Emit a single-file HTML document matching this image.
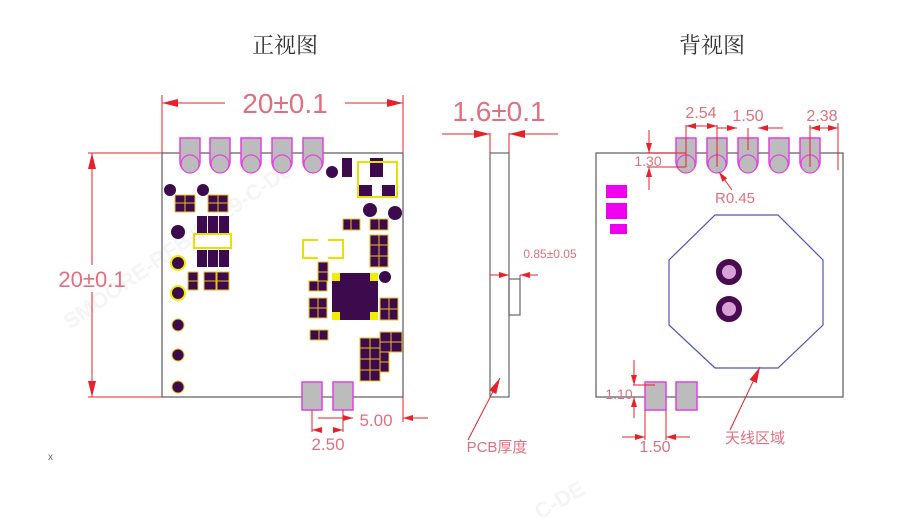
<!DOCTYPE html>
<html><head><meta charset="utf-8"><style>
html,body{margin:0;padding:0;background:#fff;}
svg{display:block;}
.t{font-family:"Liberation Sans","Noto Sans CJK SC",sans-serif;fill:#e07080;}
.h{font-family:"Noto Serif CJK SC","Noto Sans CJK SC",serif;fill:#333;}
</style></head><body>
<svg width="913" height="519" viewBox="0 0 913 519" xmlns="http://www.w3.org/2000/svg">
<defs>
<marker id="a" viewBox="0 0 10 6" refX="10" refY="3" markerWidth="10" markerHeight="6" orient="auto" markerUnits="userSpaceOnUse"><path d="M0,0L10,3L0,6z" fill="#e8202a"/></marker>
<marker id="b" viewBox="0 0 16 8" refX="16" refY="4" markerWidth="16" markerHeight="8" orient="auto" markerUnits="userSpaceOnUse"><path d="M0,0L16,4L0,8z" fill="#e8202a"/></marker>
<g id="pin"><path d="M0,0H20V24A10,10 0 0 1 0,24Z" fill="#bcbcbc" stroke="#e040e0" stroke-width="1.5"/><circle cx="10" cy="26" r="9" fill="#bcbcbc" stroke="#e040e0" stroke-width="1.2"/></g>
</defs>
<!-- watermarks -->
<g font-family="Liberation Sans,sans-serif" font-size="22" font-weight="bold" fill="#f5f5f5">
<text transform="translate(70,330) rotate(-35)">SMOORE-RFB-25-29-C-DE</text>
<text transform="translate(540,520) rotate(-30)">C-DE</text>
</g>
<!-- titles -->
<text class="h" x="285" y="53" font-size="22" text-anchor="middle">正视图</text>
<text class="h" x="712" y="53" font-size="22" text-anchor="middle">背视图</text>

<!-- FRONT VIEW -->
<g stroke="#e8202a" stroke-width="1" fill="none">
<line x1="162" y1="95" x2="162" y2="153"/><line x1="403" y1="95" x2="403" y2="153"/>
<line x1="225" y1="103" x2="162" y2="103" marker-end="url(#b)"/>
<line x1="345" y1="103" x2="403" y2="103" marker-end="url(#b)"/>
<line x1="88" y1="153" x2="162" y2="153"/><line x1="88" y1="397" x2="162" y2="397"/>
<line x1="92" y1="265" x2="92" y2="153" marker-end="url(#b)"/>
<line x1="92" y1="292" x2="92" y2="397" marker-end="url(#b)"/>
</g>
<text class="t" x="285" y="113" font-size="28" text-anchor="middle">20±0.1</text>
<text class="t" x="92" y="287" font-size="22" text-anchor="middle">20±0.1</text>
<rect x="162" y="153" width="241" height="244" fill="none" stroke="#666" stroke-width="1.3"/>
<use href="#pin" x="180" y="138"/><use href="#pin" x="210" y="138"/><use href="#pin" x="241" y="138"/><use href="#pin" x="272" y="138"/><use href="#pin" x="303" y="138"/>
<g fill="#3e0a4e" stroke="#e8c020" stroke-width="1">
<circle cx="170" cy="190" r="6" stroke="none"/><circle cx="203" cy="190" r="6" stroke="none"/><circle cx="332" cy="172" r="6" stroke="none"/>
<rect x="175" y="195" width="10" height="8"/><rect x="185" y="195" width="10" height="8"/><rect x="175" y="203" width="10" height="9"/><rect x="185" y="203" width="10" height="9"/>
<rect x="208" y="195" width="10" height="8"/><rect x="218" y="195" width="10" height="8"/><rect x="208" y="203" width="10" height="9"/><rect x="218" y="203" width="10" height="9"/>
<rect x="197" y="216" width="10" height="17" stroke="none"/><rect x="208" y="216" width="10" height="17" stroke="none"/><rect x="219" y="216" width="10" height="17" stroke="none"/>
<rect x="197" y="250" width="10" height="17" stroke="none"/><rect x="208" y="250" width="10" height="17" stroke="none"/><rect x="219" y="250" width="10" height="17" stroke="none"/>
<rect x="188" y="272" width="10" height="9"/><rect x="188" y="281" width="10" height="9"/><rect x="204" y="272" width="12" height="9"/><rect x="204" y="281" width="12" height="9"/><rect x="217" y="272" width="12" height="9"/><rect x="217" y="281" width="12" height="9"/>
<circle cx="178" cy="232" r="7" stroke="none"/><circle cx="178" cy="263" r="7" stroke="#ee0" stroke-width="2"/><circle cx="178" cy="293" r="7" stroke="#ee0" stroke-width="2"/>
<circle cx="178" cy="325" r="6"/><circle cx="178" cy="355" r="6"/><circle cx="178" cy="387" r="6"/>
<rect x="342" y="158" width="10" height="19" stroke="none"/><rect x="370" y="158" width="13" height="19" stroke="none"/>
<rect x="358" y="185" width="14" height="13" stroke="none"/><rect x="382" y="185" width="13" height="13" stroke="none"/>
<circle cx="370" cy="210" r="7" stroke="none"/><circle cx="395" cy="213" r="7" stroke="none"/>
<rect x="343" y="219" width="8" height="11"/><rect x="351" y="219" width="9" height="11"/><rect x="370" y="219" width="9" height="11"/><rect x="379" y="219" width="9" height="11"/>
<rect x="370" y="235" width="9" height="10"/><rect x="379" y="235" width="9" height="10"/><rect x="370" y="245" width="9" height="11"/><rect x="379" y="245" width="9" height="11"/><rect x="370" y="256" width="9" height="11"/><rect x="379" y="256" width="9" height="11"/>
<circle cx="385" cy="277" r="6" stroke="none"/>
<rect x="318" y="262" width="10" height="10"/><rect x="318" y="272" width="10" height="9"/>
<rect x="309" y="281" width="9" height="10"/><rect x="318" y="281" width="9" height="10"/>
<rect x="309" y="298" width="9" height="10"/><rect x="318" y="298" width="9" height="10"/><rect x="309" y="308" width="9" height="10"/><rect x="318" y="308" width="9" height="10"/>
<rect x="310" y="330" width="9" height="10"/><rect x="319" y="330" width="9" height="10"/>
<rect x="380" y="298" width="9" height="11"/><rect x="389" y="298" width="9" height="11"/><rect x="380" y="309" width="9" height="11"/><rect x="389" y="309" width="9" height="11"/>
<rect x="360" y="338" width="10" height="10"/><rect x="370" y="338" width="10" height="10"/><rect x="360" y="348" width="10" height="11"/><rect x="370" y="348" width="10" height="11"/><rect x="360" y="359" width="10" height="11"/><rect x="370" y="359" width="10" height="11"/><rect x="360" y="370" width="10" height="11"/><rect x="370" y="370" width="10" height="11"/>
<rect x="380" y="332" width="11" height="10"/><rect x="391" y="332" width="11" height="10"/><rect x="380" y="342" width="11" height="10"/><rect x="391" y="342" width="11" height="10"/><rect x="380" y="352" width="9" height="10"/><rect x="380" y="362" width="9" height="10"/>
</g>
<g fill="#ee0"><rect x="332" y="273" width="46" height="47"/></g>
<path d="M340,273H370V281H378V312H370V320H340V312H332V281H340Z" fill="#3e0a4e"/>
<rect x="194" y="234" width="37" height="14" fill="none" stroke="#e8e000" stroke-width="2"/>
<rect x="358" y="162" width="39" height="35" fill="none" stroke="#e8e000" stroke-width="2"/>
<path d="M318,240H303V258H318M328,240H343V258H328" fill="none" stroke="#e8e000" stroke-width="2"/>
<rect x="302" y="382" width="20" height="28" fill="#bcbcbc" stroke="#e040e0" stroke-width="1.5"/>
<rect x="333" y="382" width="20" height="28" fill="#bcbcbc" stroke="#e040e0" stroke-width="1.5"/>
<g stroke="#e8202a" stroke-width="1" fill="none">
<line x1="312" y1="410" x2="312" y2="432"/><line x1="343" y1="410" x2="343" y2="432"/>
<line x1="322" y1="430" x2="312" y2="430" marker-end="url(#a)"/><line x1="333" y1="430" x2="343" y2="430" marker-end="url(#a)"/>
<line x1="318" y1="418" x2="353" y2="418" marker-end="url(#a)"/>
<line x1="403" y1="397" x2="403" y2="422"/><line x1="428" y1="418" x2="403" y2="418" marker-end="url(#a)"/>
</g>
<text class="t" x="328" y="450" font-size="17" text-anchor="middle">2.50</text>
<text class="t" x="376" y="426" font-size="17" text-anchor="middle">5.00</text>

<!-- SIDE VIEW -->
<text class="t" x="499" y="121" font-size="28" text-anchor="middle">1.6±0.1</text>
<g stroke="#e8202a" stroke-width="1" fill="none">
<line x1="490" y1="133" x2="490" y2="153"/><line x1="509" y1="133" x2="509" y2="153"/>
<line x1="442" y1="134" x2="490" y2="134" marker-end="url(#b)"/>
<line x1="558" y1="134" x2="509" y2="134" marker-end="url(#b)"/>
<line x1="490" y1="275" x2="509" y2="275" marker-end="url(#a)"/>
<line x1="538" y1="275" x2="520" y2="275" marker-end="url(#a)"/>
<line x1="520" y1="275" x2="520" y2="279"/>
<line x1="468" y1="440" x2="500" y2="378" marker-end="url(#b)"/>
</g>
<rect x="490" y="153" width="19" height="244" fill="none" stroke="#666" stroke-width="1.2"/>
<rect x="509" y="279" width="11" height="36" fill="none" stroke="#666" stroke-width="1.2"/>
<text class="t" x="550" y="258" font-size="12" text-anchor="middle">0.85±0.05</text>
<text class="t" x="497" y="452" font-size="15" text-anchor="middle">PCB厚度</text>

<!-- BACK VIEW -->
<rect x="596" y="153" width="247" height="244" fill="none" stroke="#666" stroke-width="1.3"/>
<use href="#pin" x="676" y="138"/><use href="#pin" x="707" y="138"/><use href="#pin" x="738" y="138"/><use href="#pin" x="769" y="138"/><use href="#pin" x="800" y="138"/>
<g fill="#f000f0"><rect x="606" y="185" width="21" height="13"/><rect x="606" y="203" width="21" height="16"/><rect x="610" y="224" width="17" height="10"/></g>
<polygon points="715,215 778,215 823,260 823,325 778,368 715,368 669,325 669,260" fill="none" stroke="#5050c0" stroke-width="1.2"/>
<circle cx="729" cy="272" r="10" fill="#d8a0d8" stroke="#4a0a50" stroke-width="6"/>
<circle cx="729" cy="309" r="10" fill="#d8a0d8" stroke="#4a0a50" stroke-width="6"/>
<rect x="645" y="382" width="21" height="28" fill="#bcbcbc" stroke="#e040e0" stroke-width="1.5"/>
<rect x="676" y="382" width="21" height="28" fill="#bcbcbc" stroke="#e040e0" stroke-width="1.5"/>
<g stroke="#e8202a" stroke-width="1" fill="none">
<line x1="686" y1="125" x2="686" y2="167"/><line x1="717" y1="125" x2="717" y2="167"/><line x1="748" y1="128" x2="748" y2="150"/>
<line x1="686" y1="126" x2="717" y2="126" marker-end="url(#a)"/><line x1="717" y1="126" x2="686" y2="126" marker-end="url(#a)"/>
<line x1="717" y1="128" x2="737" y2="128" marker-end="url(#a)"/><line x1="783" y1="128" x2="758" y2="128" marker-end="url(#a)"/>
<line x1="810" y1="125" x2="810" y2="167"/><line x1="838" y1="123" x2="838" y2="170"/>
<line x1="830" y1="128" x2="810" y2="128" marker-end="url(#a)"/><line x1="822" y1="128" x2="838" y2="128" marker-end="url(#a)"/>
<line x1="647" y1="153" x2="686" y2="153"/><line x1="647" y1="167" x2="686" y2="167"/>
<line x1="649" y1="130" x2="649" y2="153" marker-end="url(#a)"/><line x1="649" y1="190" x2="649" y2="167" marker-end="url(#a)"/>
<line x1="732" y1="190" x2="719" y2="172" marker-end="url(#a)"/>
<line x1="633" y1="385" x2="655" y2="385"/>
<line x1="634" y1="360" x2="634" y2="385" marker-end="url(#a)"/><line x1="634" y1="418" x2="634" y2="397" marker-end="url(#a)"/>
<line x1="645" y1="410" x2="645" y2="440"/><line x1="666" y1="410" x2="666" y2="440"/>
<line x1="622" y1="437" x2="645" y2="437" marker-end="url(#a)"/><line x1="690" y1="437" x2="666" y2="437" marker-end="url(#a)"/>
<line x1="730" y1="430" x2="760" y2="367" marker-end="url(#b)"/>
</g>
<text class="t" x="701" y="118" font-size="16" text-anchor="middle">2.54</text>
<text class="t" x="748" y="121" font-size="16" text-anchor="middle">1.50</text>
<text class="t" x="822" y="121" font-size="16" text-anchor="middle">2.38</text>
<text class="t" x="648" y="166" font-size="14" text-anchor="middle">1.30</text>
<text class="t" x="735" y="203" font-size="15" text-anchor="middle">R0.45</text>
<text class="t" x="619" y="399" font-size="14" text-anchor="middle">1.10</text>
<text class="t" x="655" y="452" font-size="16" text-anchor="middle">1.50</text>
<text class="t" x="755" y="443" font-size="15" text-anchor="middle">天线区域</text>
<text x="48" y="460" font-family="Liberation Sans,sans-serif" font-size="10" fill="#666">x</text>
</svg>
</body></html>
